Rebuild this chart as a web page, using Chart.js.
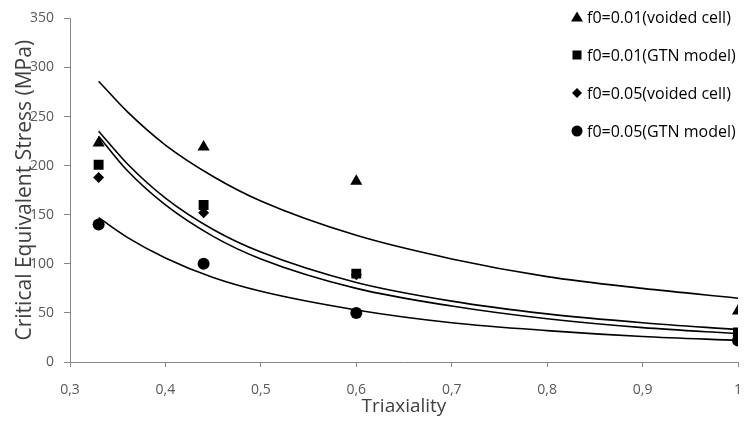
<!DOCTYPE html>
<html>
<head>
<meta charset="utf-8">
<script src="https://cdn.jsdelivr.net/npm/chart.js@4.4.1/dist/chart.umd.min.js"></script>
<style>
  html, body { margin: 0; padding: 0; background: #fff; }
  #wrap { width: 745px; height: 421px; }
</style>
</head>
<body>
<div id="wrap"><canvas id="stressChart" width="745" height="421"></canvas></div>
<script>
// measured points
const triaxiality = [0.33, 0.44, 0.6, 1];
const voided001 = [223, 219, 184, 52];
const gtn001 = [201, 160, 90, 30];
const voided005 = [188, 152, 89, 27];
const gtn005 = [140, 100, 50, 22];

// trend curves
const curveX = [0.33, 0.36, 0.4, 0.45, 0.5, 0.6, 0.7, 0.8, 0.9, 1];
const curveVoided001 = [286, 255, 221, 189, 164, 129, 105, 87, 75, 65];
const curveGtn001 = [235, 202, 167, 135, 112, 81, 62, 49, 40, 33];
const curveVoided005 = [230, 195, 160, 128, 105, 75, 57, 44, 35, 29];
const curveGtn005 = [147, 127, 106, 86, 72, 53, 40, 32, 26, 22];

const seriesLabels = [
    'f0=0.01(voided cell)', 'f0=0.01(GTN model)',
    'f0=0.05(voided cell)', 'f0=0.05(GTN model)'
];
const xTicks = [0.3, 0.4, 0.5, 0.6, 0.7, 0.8, 0.9, 1];

const toXY = (xs, ys) => xs.map((x, i) => ({ x: x, y: ys[i] }));

const markers = ['triangle', 'rect', 'rectRot', 'circle'];
const markerSize = [7, 7, 5.5, 6];

function scatterSet(label, ys, i) {
    return {
        type: 'scatter',
        label: label,
        data: toXY(triaxiality, ys),
        pointStyle: markers[i],
        pointRadius: markerSize[i],
        pointHoverRadius: markerSize[i],
        backgroundColor: '#000',
        borderColor: '#000',
        borderWidth: 0,
        order: 2
    };
}

function curveSet(ys) {
    return {
        type: 'line',
        label: '',
        data: toXY(curveX, ys),
        borderColor: '#000',
        borderWidth: 1.6,
        pointRadius: 0,
        cubicInterpolationMode: 'monotone',
        fill: false,
        order: 1
    };
}

// legend drawn inside the plot, top right
const cornerLegend = {
    id: 'cornerLegend',
    afterDraw(chart) {
        const ctx = chart.ctx;
        ctx.save();
        ctx.fillStyle = '#000';
        ctx.font = '16px "Open Sans"';
        ctx.textBaseline = 'middle';
        seriesLabels.forEach((label, i) => {
            const y = 17 + i * 38;
            const x = 577;
            ctx.beginPath();
            if (i === 0) {
                ctx.moveTo(x, y - 5.5);
                ctx.lineTo(x + 6, y + 4.5);
                ctx.lineTo(x - 6, y + 4.5);
                ctx.closePath();
            } else if (i === 1) {
                ctx.rect(x - 4.5, y - 4.5, 9, 9);
            } else if (i === 2) {
                ctx.moveTo(x, y - 5);
                ctx.lineTo(x + 5, y);
                ctx.lineTo(x, y + 5);
                ctx.lineTo(x - 5, y);
                ctx.closePath();
            } else {
                ctx.arc(x, y, 5.5, 0, Math.PI * 2);
            }
            ctx.fill();
            ctx.fillText(label, 587, y + 1);
        });
        ctx.restore();
    }
};

new Chart(document.getElementById('stressChart'), {
    data: {
        datasets: [
            scatterSet(seriesLabels[0], voided001, 0),
            scatterSet(seriesLabels[1], gtn001, 1),
            scatterSet(seriesLabels[2], voided005, 2),
            scatterSet(seriesLabels[3], gtn005, 3),
            curveSet(curveVoided001),
            curveSet(curveGtn001),
            curveSet(curveVoided005),
            curveSet(curveGtn005)
        ]
    },
    options: {
        responsive: false,
        animation: false,
        devicePixelRatio: 1,
        layout: { padding: { left: 0, right: 7, top: 17, bottom: 0 } },
        plugins: {
            legend: { display: false },
            tooltip: { enabled: false }
        },
        scales: {
            x: {
                type: 'linear',
                min: 0.3,
                max: 1,
                afterBuildTicks: scale => { scale.ticks = xTicks.map(v => ({ value: v })); },
                afterFit: scale => {
                    scale.height = 59;
                    scale.paddingLeft = 0;
                    scale.paddingRight = 0;
                },
                grid: { drawOnChartArea: false, color: '#868686', tickLength: 5 },
                border: { color: '#868686', width: 1 },
                ticks: {
                    color: '#595959',
                    font: { family: 'Open Sans', size: 14 },
                    padding: 15,
                    callback: v => v === 1 ? '1' : v.toFixed(1).replace('.', ',')
                },
                title: {
                    display: true,
                    text: 'Triaxiality',
                    color: '#404040',
                    font: { family: 'Open Sans', size: 19 },
                    padding: { top: 0, bottom: 3 }
                }
            },
            y: {
                min: 0,
                max: 350,
                afterFit: scale => { scale.width = 70; },
                grid: { drawOnChartArea: false, color: '#868686', tickLength: 6 },
                border: { color: '#868686', width: 1 },
                ticks: {
                    stepSize: 50,
                    color: '#595959',
                    font: { family: 'Open Sans', size: 14 },
                    padding: 10
                },
                title: {
                    display: true,
                    text: 'Critical Equivalent Stress (MPa)',
                    color: '#404040',
                    font: { family: 'Open Sans', size: 21 },
                    padding: { top: 12, bottom: 0 }
                }
            }
        }
    },
    plugins: [cornerLegend]
});
</script>
</body>
</html>
